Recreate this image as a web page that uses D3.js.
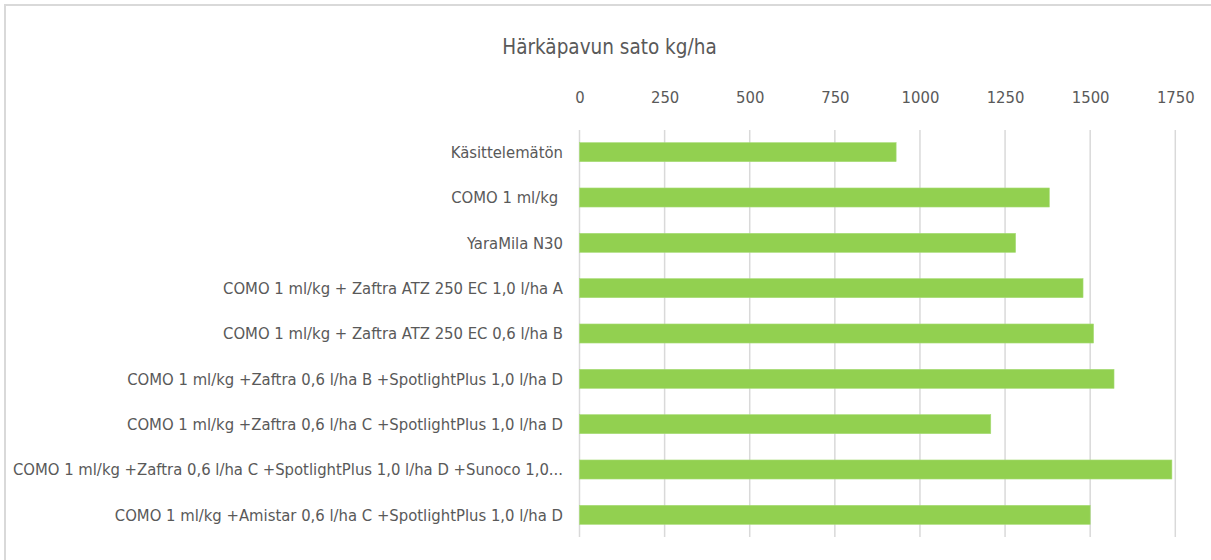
<!DOCTYPE html>
<html>
<head>
<meta charset="utf-8">
<script src="https://cdn.jsdelivr.net/npm/d3@7"></script>
<style>
  html, body { margin: 0; padding: 0; background: #fff; }
  svg { display: block; }
  text { font-family: "DejaVu Sans Condensed", "DejaVu Sans", sans-serif; fill: #595959; }
</style>
</head>
<body>
<svg id="chart" width="1211" height="560"></svg>
<script>
const title = "Härkäpavun sato kg/ha";
const categories = [
  "Käsittelemätön",
  "COMO 1 ml/kg ",
  "YaraMila N30",
  "COMO 1 ml/kg + Zaftra ATZ 250 EC 1,0 l/ha A",
  "COMO 1 ml/kg + Zaftra ATZ 250 EC 0,6 l/ha B",
  "COMO 1 ml/kg +Zaftra 0,6 l/ha B +SpotlightPlus 1,0 l/ha D",
  "COMO 1 ml/kg +Zaftra 0,6 l/ha C +SpotlightPlus 1,0 l/ha D",
  "COMO 1 ml/kg +Zaftra 0,6 l/ha C +SpotlightPlus 1,0 l/ha D +Sunoco 1,0...",
  "COMO 1 ml/kg +Amistar 0,6 l/ha C +SpotlightPlus 1,0 l/ha D"
];
const values = [930, 1380, 1281, 1479, 1510, 1570, 1208, 1740, 1500];
const tickValues = [0, 250, 500, 750, 1000, 1250, 1500, 1750];

const svg = d3.select("#chart");

// outer chart border
svg.append("rect")
  .attr("x", 5).attr("y", 5)
  .attr("width", 1400).attr("height", 800)
  .attr("fill", "none")
  .attr("stroke", "#d9d9d9")
  .attr("stroke-width", 2);

const x = d3.scaleLinear().domain([0, 1750]).range([579.5, 1175.3]);
const y = d3.scaleBand().domain(categories).range([129.5, 537.5]).paddingInner(0.58).paddingOuter(0.29);

// gridlines
svg.append("g")
  .selectAll("line")
  .data(tickValues)
  .join("line")
  .attr("x1", d => x(d)).attr("x2", d => x(d))
  .attr("y1", 130).attr("y2", 537)
  .attr("stroke", "#d9d9d9")
  .attr("stroke-width", 1.5);

// top axis labels
const axis = d3.axisTop(x).tickValues(tickValues).tickFormat(d3.format("d")).tickSize(0).tickPadding(0);
const gAxis = svg.append("g").attr("transform", "translate(0,103)").call(axis);
gAxis.select(".domain").remove();
gAxis.selectAll("text")
  .attr("y", 0).attr("dy", 0)
  .style("font-size", "16.5px")
  .style("fill", "#595959")
  .style("font-family", "\"DejaVu Sans Condensed\", \"DejaVu Sans\", sans-serif");

// bars
svg.append("g")
  .selectAll("rect")
  .data(values)
  .join("rect")
  .attr("x", x(0))
  .attr("y", (d, i) => y(categories[i]))
  .attr("width", d => x(d) - x(0))
  .attr("height", y.bandwidth())
  .attr("fill", "#92d050")
  .attr("stroke", "#a8dc78")
  .attr("stroke-width", 0.6);

// category labels
svg.append("g")
  .selectAll("text")
  .data(categories)
  .join("text")
  .attr("x", 563)
  .attr("y", d => y(d) + y.bandwidth() / 2)
  .attr("dy", "0.35em")
  .attr("text-anchor", "end")
  .style("font-size", "16.5px")
  .style("white-space", "pre")
  .text(d => d);

// title
svg.append("text")
  .attr("x", 609.5)
  .attr("y", 54)
  .attr("text-anchor", "middle")
  .style("font-size", "20.5px")
  .text(title);
</script>
</body>
</html>
